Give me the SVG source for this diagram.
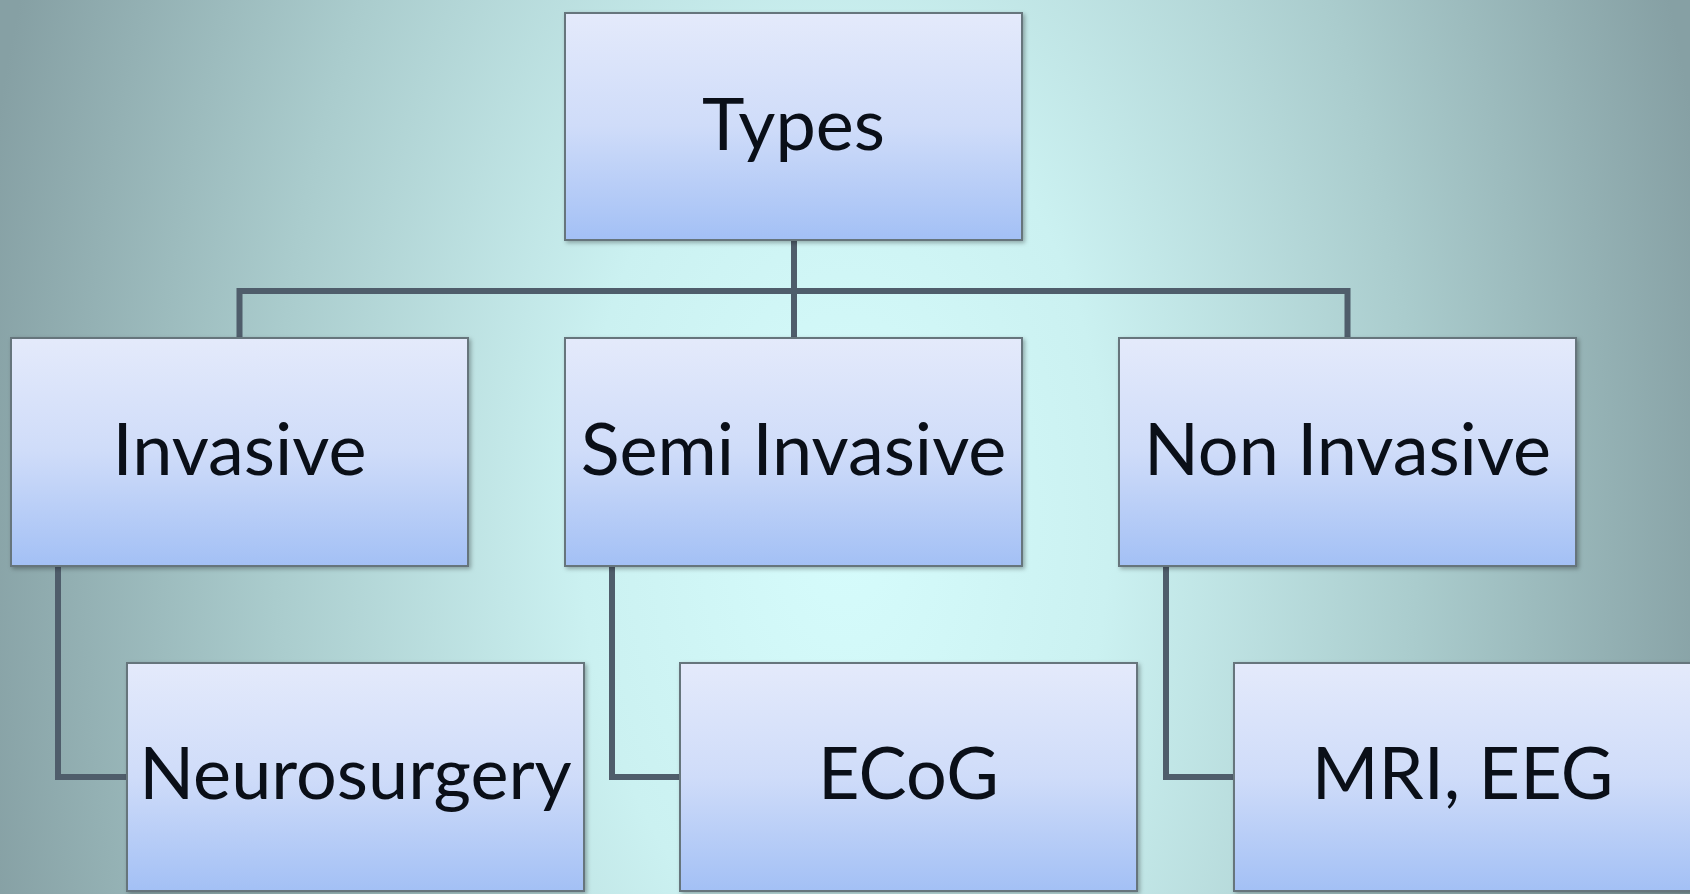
<svg xmlns="http://www.w3.org/2000/svg" width="1690" height="894" viewBox="0 0 1690 894">
  <defs>
    <radialGradient id="bg" gradientUnits="userSpaceOnUse" cx="845" cy="520" r="880" fx="845" fy="520" gradientTransform="translate(845 520) scale(1 1.7) translate(-845 -520)">
      <stop offset="0" stop-color="#d6fcfc"/>
      <stop offset="0.3" stop-color="#cbf1f1"/>
      <stop offset="0.65" stop-color="#aacccd"/>
      <stop offset="1" stop-color="#86a0a4"/>
    </radialGradient>
    <linearGradient id="box" x1="0" y1="0" x2="0" y2="1">
      <stop offset="0" stop-color="#e4eafb"/>
      <stop offset="0.5" stop-color="#cfdcf9"/>
      <stop offset="1" stop-color="#a3c0f5"/>
    </linearGradient>
    <filter id="sh" x="-5%" y="-5%" width="115%" height="115%">
      <feDropShadow dx="2" dy="2" stdDeviation="2" flood-color="#000" flood-opacity="0.3"/>
    </filter>
  </defs>
  <style>
    .node rect { fill: url(#box); stroke: #66757c; stroke-width: 2; filter: url(#sh); }
    .node text { font-family: Lato, "Open Sans", "Liberation Sans", sans-serif; font-size: 72px; fill: #0a0f18; text-anchor: middle; }
    .conn { fill: none; stroke: #4f5d6b; stroke-width: 6; }
  </style>
  <rect x="0" y="0" width="1690" height="894" fill="url(#bg)"/>
  <g id="connectors">
    <path class="conn" d="M794 240 V338"/>
    <path class="conn" d="M239.5 338 V291 H1347.5 V338"/>
    <path class="conn" d="M58 566 V777 H127"/>
    <path class="conn" d="M612 566 V777 H680"/>
    <path class="conn" d="M1166 566 V777 H1234"/>
  </g>
  <g id="types" class="node"><rect x="565" y="13" width="457" height="227"/><text x="793.5" y="150">Types</text></g>
  <g id="invasive" class="node"><rect x="11" y="338" width="457" height="228"/><text x="239.5" y="475">Invasive</text></g>
  <g id="semi-invasive" class="node"><rect x="565" y="338" width="457" height="228"/><text x="793.5" y="475">Semi Invasive</text></g>
  <g id="non-invasive" class="node"><rect x="1119" y="338" width="457" height="228"/><text x="1347.5" y="475">Non Invasive</text></g>
  <g id="neurosurgery" class="node"><rect x="127" y="663" width="457" height="228"/><text x="355.5" y="799">Neurosurgery</text></g>
  <g id="ecog" class="node"><rect x="680" y="663" width="457" height="228"/><text x="908.5" y="799">ECoG</text></g>
  <g id="mri-eeg" class="node"><rect x="1234" y="663" width="457" height="228"/><text x="1462.5" y="799">MRI, EEG</text></g>
</svg>
